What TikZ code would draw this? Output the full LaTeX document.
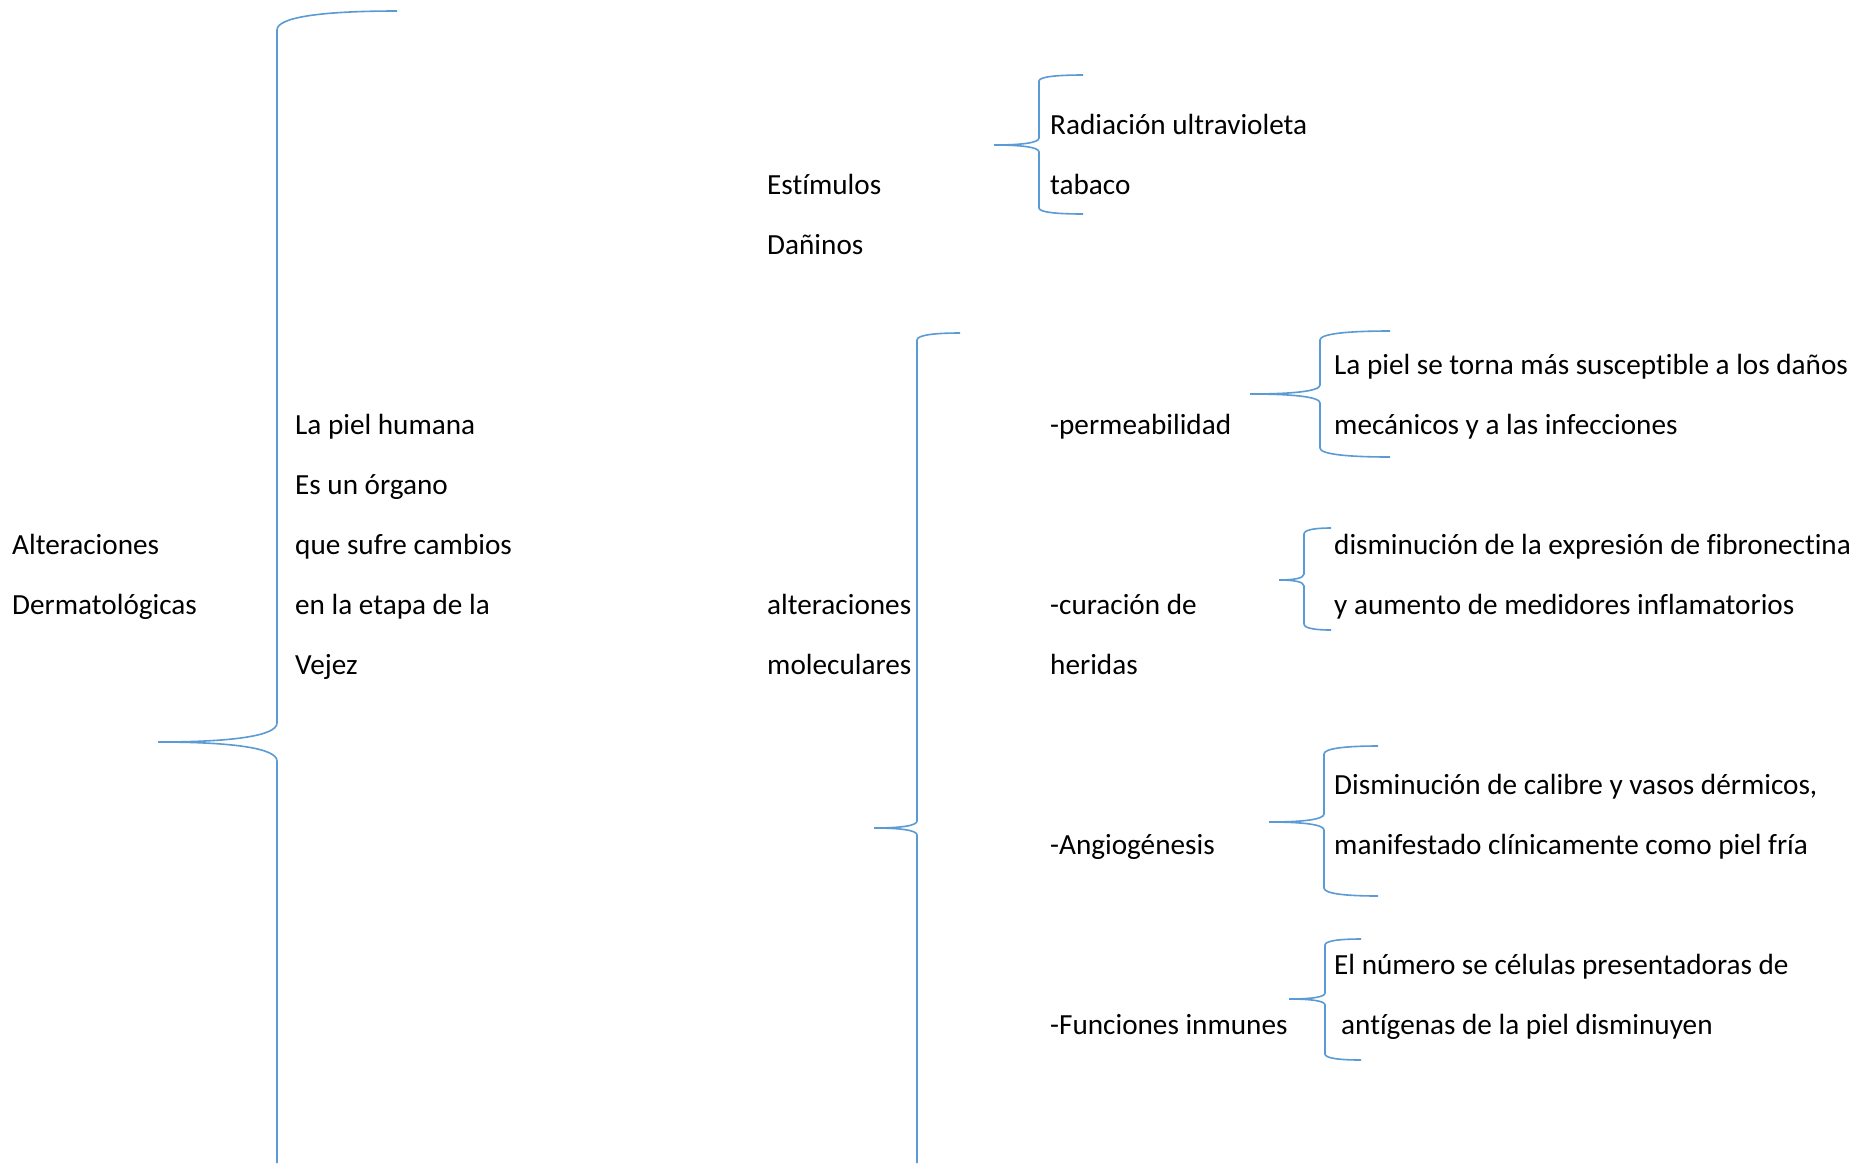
\documentclass[tikz,border=0pt]{standalone}
\usepackage{fontspec}
\setmainfont[Ligatures=CommonOff]{Carlito}
\definecolor{brblue}{RGB}{91,155,213}
\tikzset{
  br/.style={draw=brblue, line width=1.6pt},
  txt/.style={anchor=base west, inner sep=0pt, font=\fontsize{29.2}{35}\selectfont}
}
% #1 tip x, #2 vertical x, #3 end x, #4 top y, #5 mid y, #6 bottom y, #7 end corner h, #8 mid corner h
\newcommand\wbr[8]{%
  \draw[br] (#3,#4) .. controls +({-(#3-#2)*0.6},0) and +(0,{-#7*0.7}) .. (#2,{#4+#7})
    -- (#2,{#5-#8}) .. controls +(0,{#8*0.7}) and +({(#2-#1)*0.6},0) .. (#1,#5)
    .. controls +({(#2-#1)*0.6},0) and +(0,{-#8*0.7}) .. (#2,{#5+#8})
    -- (#2,{#6-#7}) .. controls +(0,{#7*0.7}) and +({-(#3-#2)*0.6},0) .. (#3,#6);}
\newcommand\wbropen[6]{%
  \draw[br] (#3,#4) .. controls +({-(#3-#2)*0.6},0) and +(0,{-#5*0.7}) .. (#2,{#4+#5})
    -- (#2,{#6-#5}) .. controls +(0,{#5*0.7}) and +({(#2-#1)*0.6},0) .. (#1,#6)
    .. controls +({(#2-#1)*0.6},0) and +(0,{-#5*0.7}) .. (#2,{#6+#5})
    -- (#2,1163);}
\begin{document}
\begin{tikzpicture}[x=1pt,y=-1pt]
\useasboundingbox[fill=white] (0,0) rectangle (1876,1163);
% braces
\wbropen{158}{277}{397}{11}{19}{742}
\wbropen{874}{917}{960}{333}{7}{828}
\wbr{994}{1039}{1083}{75}{145}{214}{6}{7}
\wbr{1250}{1320}{1390}{331}{394}{457}{9}{9}
\wbr{1279}{1304}{1331}{528}{580}{630}{6}{6}
\wbr{1269}{1324}{1378}{746}{822}{896}{8}{8}
\wbr{1289}{1325}{1361}{939}{999}{1060}{6}{6}
% left column
\node[txt] (alt) at (12,554) {Alteraciones};
\node[txt] (derm) at (12,614) {Dermatológicas};
% second column
\node[txt] (p1) at (295,434) {La piel humana};
\node[txt] (p2) at (295,494) {Es un órgano};
\node[txt] (p3) at (295,554) {que sufre cambios};
\node[txt] (p4) at (295,614) {en la etapa de la};
\node[txt] (p5) at (295,674) {Vejez};
% third column
\node[txt] (e1) at (767,194) {Estímulos};
\node[txt] (e2) at (767,254) {Dañinos};
\node[txt] (m1) at (767,614) {alteraciones};
\node[txt] (m2) at (767,674) {moleculares};
% fourth column
\node[txt] (r1) at (1050,134) {Radiación ultravioleta};
\node[txt] (r2) at (1050,194) {tabaco};
\node[txt] (c1) at (1050,434) {-permeabilidad};
\node[txt] (c2) at (1050,614) {-curación de};
\node[txt] (c3) at (1050,674) {heridas};
\node[txt] (c4) at (1050,854) {-Angiogénesis};
\node[txt] (c5) at (1050,1034) {-Funciones inmunes};
% fifth column
\node[txt] (d1) at (1334,374) {La piel se torna más susceptible a los daños};
\node[txt] (d2) at (1334,434) {mecánicos y a las infecciones};
\node[txt] (d3) at (1334,554) {disminución de la expresión de fibronectina};
\node[txt] (d4) at (1334,614) {y aumento de medidores inflamatorios};
\node[txt] (d5) at (1334,794) {Disminución de calibre y vasos dérmicos,};
\node[txt] (d6) at (1334,854) {manifestado clínicamente como piel fría};
\node[txt] (d7) at (1334,974) {El número se células presentadoras de};
\node[txt] (d8) at (1341,1034) {antígenas de la piel disminuyen};
\end{tikzpicture}
\end{document}
